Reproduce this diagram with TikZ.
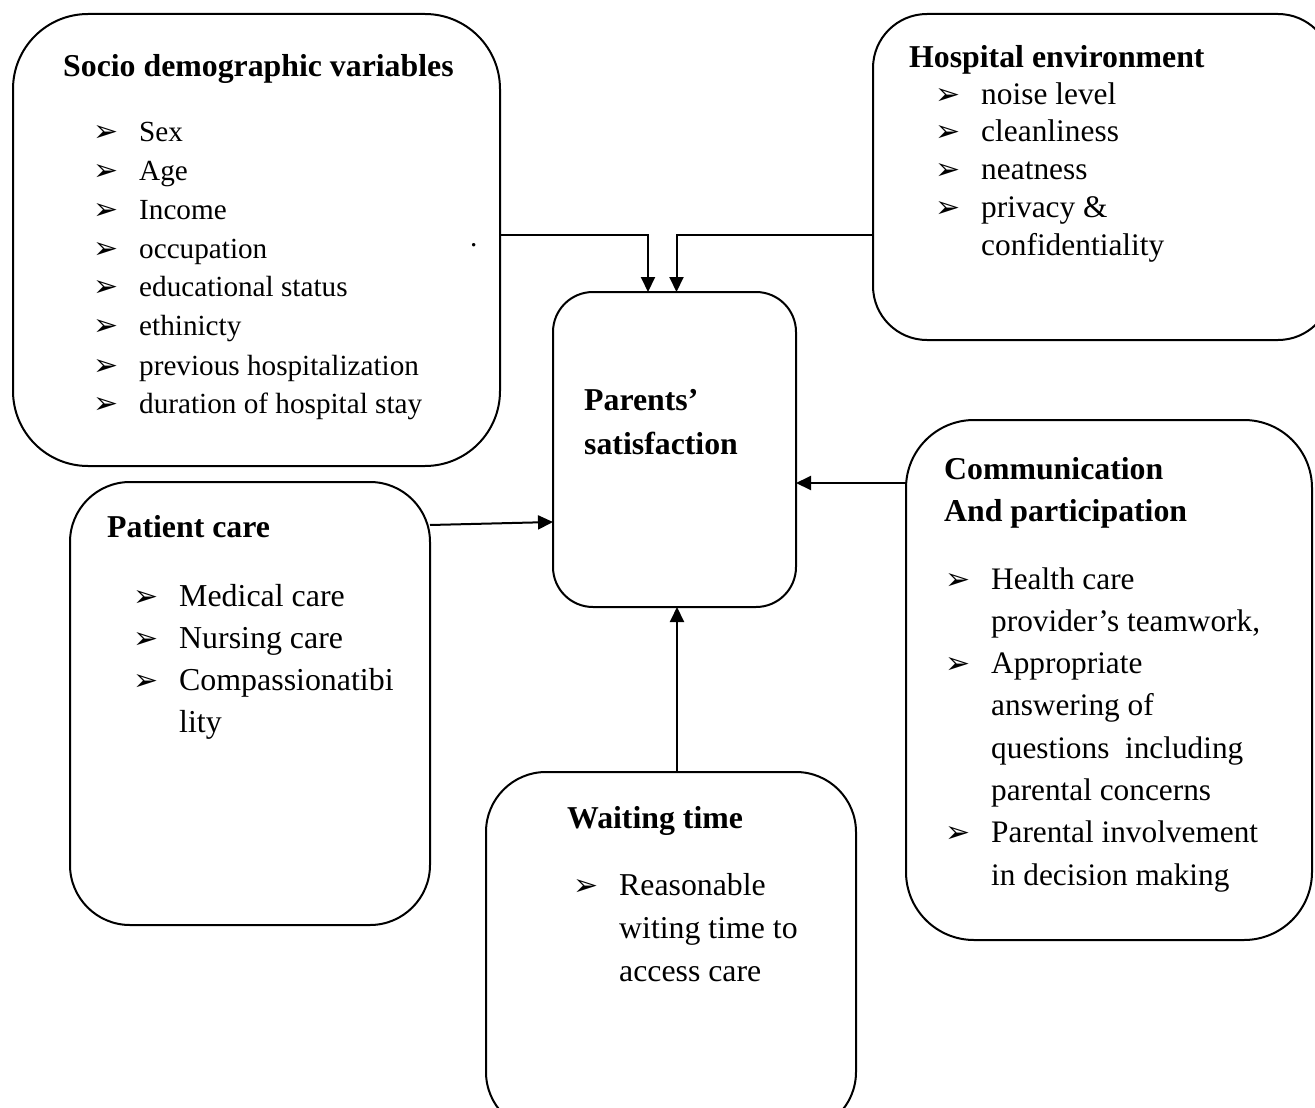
\documentclass[tikz,border=0pt]{standalone}
\usepackage{fontspec}
\setmainfont{Liberation Serif}
\newfontfamily\dingfont{DejaVu Sans}
\usetikzlibrary{arrows.meta}
\newcommand{\itemarrow}{\makebox[46pt][l]{{\dingfont\fontsize{30}{30}\selectfont ➢}}}
\newcommand{\indented}{\hspace*{46pt}}
\newcommand{\block}[1]{\begin{tabular}[t]{@{}l@{}}#1\end{tabular}}

\begin{document}
\begin{tikzpicture}[x=1pt,y=-1pt,
    box/.style={draw,line width=2pt,inner sep=0pt,outer sep=0pt},
    txt/.style={anchor=base west,inner sep=0pt},
    arr/.style={line width=2pt,-{Triangle[length=15pt,width=14pt]}}]
  \useasboundingbox (0,0) rectangle (1315,1108);
  \clip (0,0) rectangle (1315,1108);

  % boxes
  \node[box,rounded corners=75pt,minimum width=487pt,minimum height=452pt] (socio) at (256.5,240) {};
  \node[box,rounded corners=54pt,minimum width=459pt,minimum height=326pt] (hosp) at (1102.5,177) {};
  \node[box,rounded corners=40pt,minimum width=243pt,minimum height=315pt] (parents) at (674.5,449.5) {};
  \node[box,rounded corners=60pt,minimum width=360pt,minimum height=443pt] (patient) at (250,703.5) {};
  \node[box,rounded corners=68pt,minimum width=406pt,minimum height=520pt] (comm) at (1109,680) {};
  \node[box,rounded corners=60pt,minimum width=370pt,minimum height=360pt] (waiting) at (671,952) {};

  % texts
  \node[txt,font=\bfseries\fontsize{31.8}{40}\selectfont] (sociot) at (63,77) {Socio demographic variables};
  \node[txt,font=\fontsize{29.2}{39}\selectfont] (sociol) at (93,141) {\block{\itemarrow Sex\\ \itemarrow Age\\ \itemarrow Income\\ \itemarrow occupation\\ \itemarrow educational status\\ \itemarrow ethinicty\\ \itemarrow previous hospitalization\\ \itemarrow duration of hospital stay}};
  \node[txt,font=\fontsize{29.2}{30}\selectfont] (dot) at (470,246) {.};

  \node[txt,font=\bfseries\fontsize{31.8}{40}\selectfont] (hospt) at (909,68) {Hospital environment};
  \node[txt,font=\fontsize{31.4}{37.75}\selectfont] (hospl) at (935,104) {\block{\itemarrow noise level\\ \itemarrow cleanliness\\ \itemarrow neatness\\ \itemarrow privacy \&\\ \indented confidentiality}};

  \node[txt,font=\bfseries\fontsize{31.8}{44}\selectfont] (parentst) at (584,410) {\block{Parents’\\ satisfaction}};

  \node[txt,font=\bfseries\fontsize{31.8}{40}\selectfont] (patientt) at (107,537) {Patient care};
  \node[txt,font=\fontsize{31.9}{42}\selectfont] (patientl) at (133,606) {\block{\itemarrow Medical care\\ \itemarrow Nursing care\\ \itemarrow Compassionatibi\\ \indented lity}};

  \node[txt,font=\bfseries\fontsize{31.8}{42}\selectfont] (commt) at (944,479) {\block{Communication\\ And participation}};
  \node[txt,font=\fontsize{31.3}{42.3}\selectfont] (comml) at (945,589) {\block{\itemarrow Health care\\ \indented provider’s teamwork,\\ \itemarrow Appropriate\\ \indented answering of\\ \indented questions~ including\\ \indented parental concerns\\ \itemarrow Parental involvement\\ \indented in decision making}};

  \node[txt,font=\bfseries\fontsize{31.8}{40}\selectfont] (waitingt) at (567,828) {Waiting time};
  \node[txt,font=\fontsize{31.8}{43}\selectfont] (waitingl) at (573,895) {\block{\itemarrow Reasonable\\ \indented witing time to\\ \indented access care}};

  % arrows
  \draw[arr] ([yshift=5pt]socio.east) -| ([xshift=-26.5pt]parents.north);
  \draw[arr] ([yshift=-58pt]hosp.west) -| ([xshift=2pt]parents.north);
  \draw[arr] ([yshift=178.5pt]patient.east) -- ([yshift=-72.5pt]parents.west);
  \draw[arr] ([yshift=197pt]comm.west) -- ([yshift=-33.5pt]parents.east);
  \draw[arr] ([xshift=6pt]waiting.north) -- ([xshift=2.5pt]parents.south);
\end{tikzpicture}
\end{document}
